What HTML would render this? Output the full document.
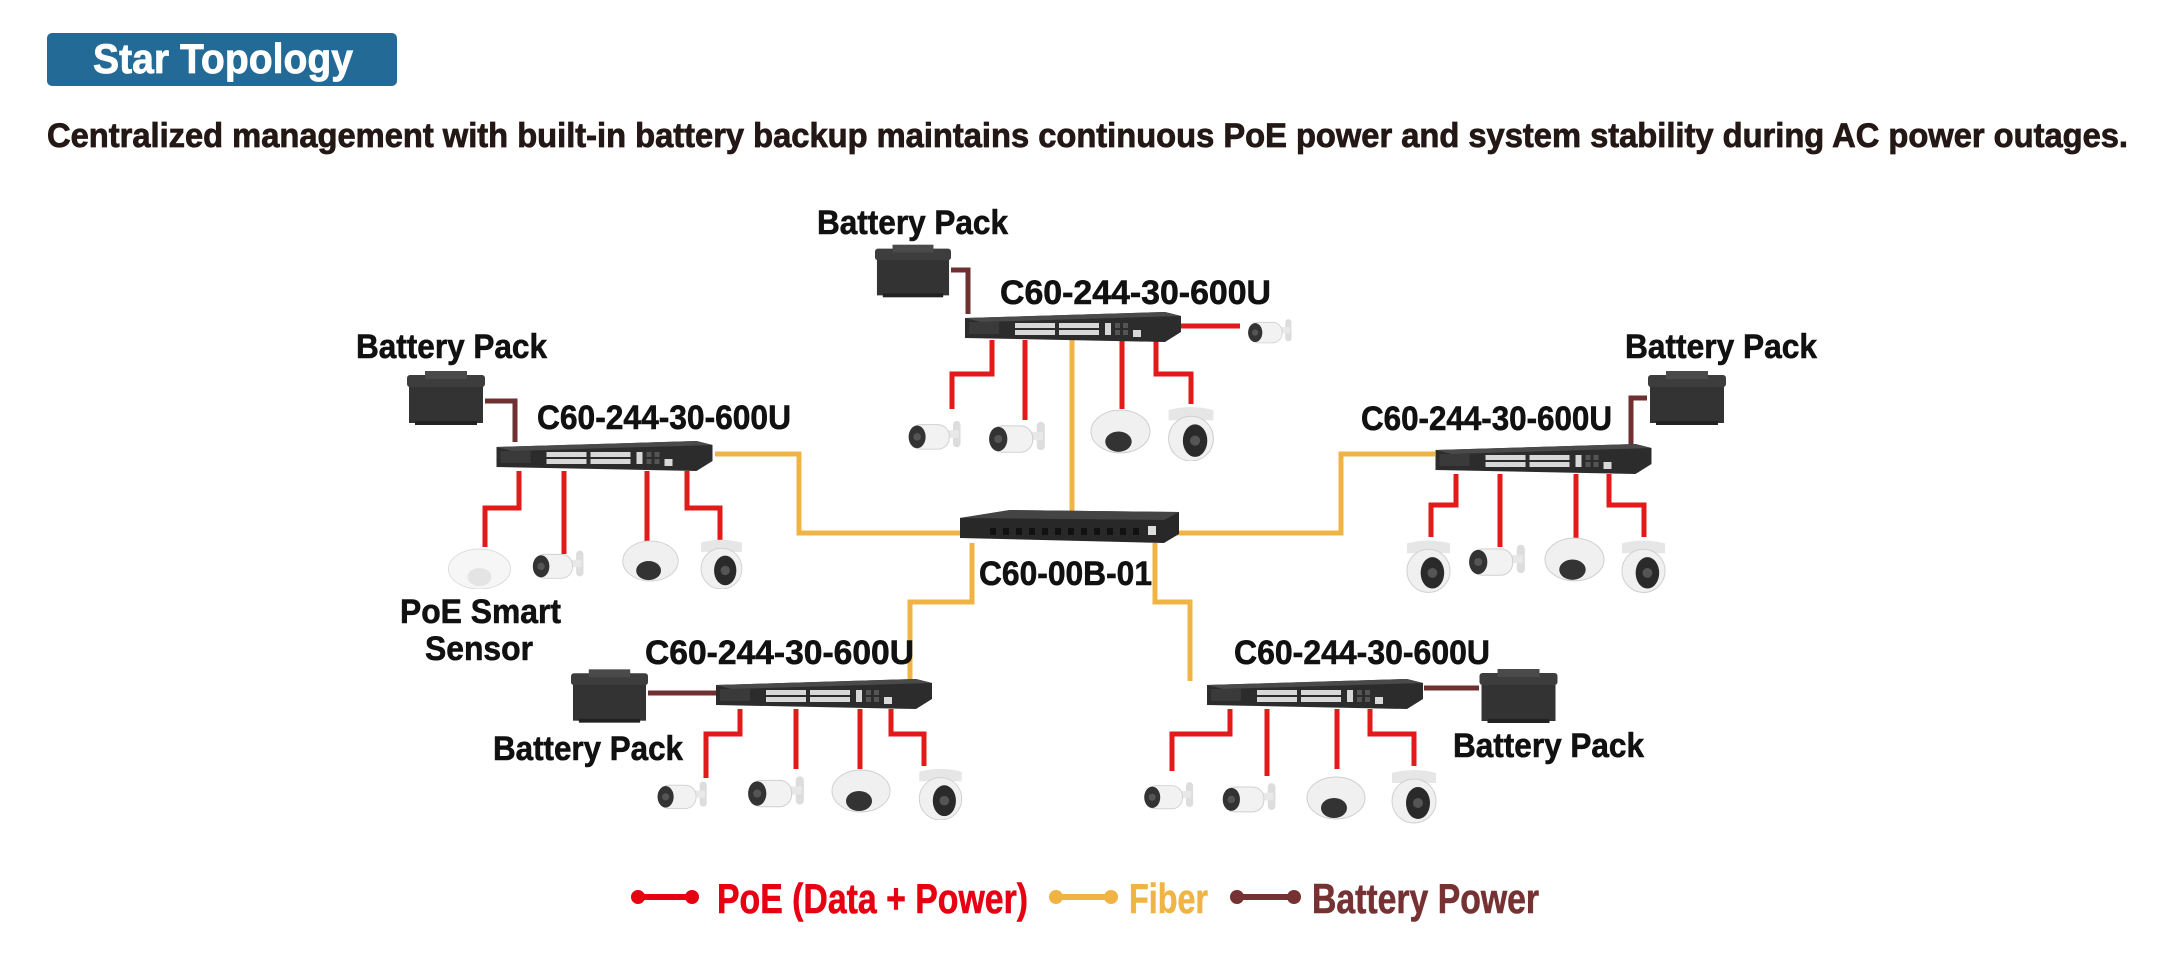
<!DOCTYPE html>
<html><head><meta charset="utf-8"><style>
html,body{margin:0;padding:0;background:#fff;width:2171px;height:961px;overflow:hidden}
svg{display:block}
text{font-family:"Liberation Sans",sans-serif;font-weight:bold}
</style></head><body>
<svg width="2171" height="961" viewBox="0 0 2171 961" xmlns="http://www.w3.org/2000/svg">
<defs>
<symbol id="sw" viewBox="0 0 216 30">
<polygon points="0,6 200,0 216,4 216,20 200,30 0,26" fill="#2c2c2c"/>
<polygon points="0,6 200,0 216,4 16,10" fill="#4a4a4a"/>
<g fill="#d8d8d8">
<rect x="50" y="11" width="40" height="5"/><rect x="50" y="18" width="40" height="5"/>
<rect x="94" y="11" width="40" height="5"/><rect x="94" y="18" width="40" height="5"/>
<rect x="140" y="11" width="6" height="12"/>
<rect x="168" y="18" width="8" height="7"/></g>
<g fill="#555"><rect x="150" y="11" width="5" height="5"/><rect x="158" y="11" width="5" height="5"/><rect x="150" y="18" width="5" height="5"/><rect x="158" y="18" width="5" height="5"/></g>
<rect x="4" y="10" width="30" height="12" fill="#3a3a3a"/>
</symbol>
<symbol id="csw" viewBox="0 0 219 33">
<polygon points="0,8 50,0 219,2 219,24 204,33 0,28" fill="#282828"/>
<polygon points="0,8 50,0 219,2 204,10" fill="#444"/>
<g fill="#111"><rect x="30" y="18" width="6" height="7"/><rect x="43" y="18" width="6" height="7"/><rect x="56" y="18" width="6" height="7"/><rect x="69" y="18" width="6" height="7"/><rect x="82" y="18" width="6" height="7"/><rect x="95" y="18" width="6" height="7"/><rect x="108" y="18" width="6" height="7"/><rect x="121" y="18" width="6" height="7"/><rect x="134" y="18" width="6" height="7"/><rect x="147" y="18" width="6" height="7"/><rect x="160" y="18" width="6" height="7"/><rect x="173" y="18" width="6" height="7"/></g>
<rect x="188" y="16" width="8" height="9" fill="#ddd"/>
</symbol>
<symbol id="bat" viewBox="0 0 78 54">
<rect x="2" y="8" width="74" height="44" fill="#333"/>
<rect x="0" y="4" width="78" height="12" rx="3" fill="#3d3d3d"/>
<rect x="18" y="0" width="42" height="8" fill="#4a4a4a"/>
<rect x="8" y="50" width="62" height="4" fill="#222"/>
</symbol>
<symbol id="bul" viewBox="0 0 72 38">
<rect x="54" y="4" width="8" height="28" rx="4" fill="#ddd"/>
<rect x="40" y="14" width="20" height="8" fill="#e8e8e8"/>
<rect x="8" y="8" width="42" height="26" rx="12" fill="#f2f2f2" stroke="#d0d0d0"/>
<ellipse cx="16" cy="21" rx="9" ry="12" fill="#333"/>
<circle cx="16" cy="21" r="4" fill="#555"/>
</symbol>
<symbol id="dome" viewBox="0 0 60 44">
<ellipse cx="30" cy="22" rx="29" ry="21" fill="#f0f0f0" stroke="#d0d0d0"/>
<ellipse cx="28" cy="32" rx="13" ry="10" fill="#333"/>
</symbol>
<symbol id="tur" viewBox="0 0 52 56">
<path d="M4,6 Q26,0 48,6 L48,16 L4,16 Z" fill="#e6e6e6"/>
<ellipse cx="26" cy="34" rx="22" ry="22" fill="#f0f0f0" stroke="#d0d0d0"/>
<ellipse cx="30" cy="36" rx="12" ry="16" fill="#2a2a2a"/>
<circle cx="30" cy="36" r="5" fill="#555"/>
</symbol>
<symbol id="sen" viewBox="0 0 64 42">
<ellipse cx="32" cy="22" rx="31" ry="20" fill="#f6f6f6" stroke="#ddd"/>
<ellipse cx="32" cy="30" rx="12" ry="9" fill="#e4e4e4"/>
</symbol>
</defs>

<rect x="47" y="33" width="350" height="53" rx="5" fill="#236a96"/>
<text x="93" y="73" font-size="42" fill="#fff" stroke="#fff" stroke-width="0.8" textLength="260" lengthAdjust="spacingAndGlyphs">Star Topology</text>
<text x="47" y="147" font-size="34" fill="#231815" stroke="#231815" stroke-width="0.8" textLength="2081" lengthAdjust="spacingAndGlyphs">Centralized management with built-in battery backup maintains continuous PoE power and system stability during AC power outages.</text>

<g fill="none" stroke-width="5">
<g stroke="#f0b445">
<polyline points="1072,340 1072,512"/>
<polyline points="715,454 799,454 799,533 962,533"/>
<polyline points="1177,533 1341,533 1341,454 1435,454"/>
<polyline points="972,543 972,602 910,602 910,681"/>
<polyline points="1155,543 1155,602 1190,602 1190,681"/>
</g>
<g stroke="#6e3030">
<polyline points="951,270 968,270 968,314"/>
<polyline points="485,401 515,401 515,442"/>
<polyline points="1647,398 1631,398 1631,445"/>
<polyline points="648,693 716,693"/>
<polyline points="1424,688 1479,688"/>
</g>
<g stroke="#e21a1a">
<polyline points="992,340 992,374 952,374 952,409"/>
<polyline points="1025,340 1025,420"/>
<polyline points="1122,340 1122,409"/>
<polyline points="1156,340 1156,374 1191,374 1191,404"/>
<polyline points="1181,326 1240,326"/>
<polyline points="519,471 519,508 485,508 485,547"/>
<polyline points="564,471 564,554"/>
<polyline points="647,471 647,544"/>
<polyline points="687,471 687,508 720,508 720,540"/>
<polyline points="1456,474 1456,505 1431,505 1431,537"/>
<polyline points="1500,474 1500,547"/>
<polyline points="1576,474 1576,540"/>
<polyline points="1609,474 1609,505 1644,505 1644,537"/>
<polyline points="740,709 740,734 706,734 706,778"/>
<polyline points="796,709 796,769"/>
<polyline points="860,709 860,769"/>
<polyline points="891,709 891,734 924,734 924,766"/>
<polyline points="1230,709 1230,734 1172,734 1172,771"/>
<polyline points="1267,709 1267,776"/>
<polyline points="1337,709 1337,769"/>
<polyline points="1370,709 1370,734 1414,734 1414,766"/>
</g>
</g>

<use href="#sw" x="965" y="312" width="216" height="30"/>
<use href="#sw" x="494" y="441" width="221" height="30"/>
<use href="#sw" x="1435" y="444" width="217" height="30"/>
<use href="#sw" x="716" y="679" width="216" height="30"/>
<use href="#sw" x="1206" y="679" width="218" height="30"/>
<use href="#csw" x="960" y="510" width="219" height="33"/>
<use href="#bat" x="875" y="244" width="76" height="54"/>
<use href="#bat" x="407" y="371" width="78" height="54"/>
<use href="#bat" x="1647" y="371" width="80" height="54"/>
<use href="#bat" x="571" y="669" width="77" height="54"/>
<use href="#bat" x="1479" y="669" width="79" height="54"/>
<use href="#bul" x="902" y="411" width="68" height="48"/>
<use href="#bul" x="982" y="417" width="73" height="40"/>
<use href="#dome" x="1090" y="409" width="61" height="45"/>
<use href="#tur" x="1163" y="404" width="56" height="57"/>
<use href="#bul" x="1237" y="316" width="68" height="30"/>
<use href="#sen" x="447" y="547" width="65" height="42"/>
<use href="#bul" x="523" y="547" width="73" height="35"/>
<use href="#dome" x="620" y="540" width="61" height="42"/>
<use href="#tur" x="695" y="537" width="53" height="52"/>
<use href="#tur" x="1403" y="537" width="51" height="56"/>
<use href="#bul" x="1462" y="540" width="73" height="40"/>
<use href="#dome" x="1544" y="537" width="61" height="45"/>
<use href="#tur" x="1618" y="537" width="51" height="56"/>
<use href="#bul" x="647" y="778" width="73" height="34"/>
<use href="#bul" x="741" y="766" width="73" height="51"/>
<use href="#dome" x="831" y="769" width="60" height="44"/>
<use href="#tur" x="914" y="766" width="53" height="54"/>
<use href="#bul" x="1138" y="771" width="64" height="49"/>
<use href="#bul" x="1216" y="778" width="69" height="39"/>
<use href="#dome" x="1305" y="776" width="62" height="44"/>
<use href="#tur" x="1388" y="766" width="52" height="58"/>

<g font-size="34" fill="#111" stroke="#111" stroke-width="0.6">
<text x="817" y="234" textLength="191" lengthAdjust="spacingAndGlyphs">Battery Pack</text>
<text x="1000" y="304" textLength="271" lengthAdjust="spacingAndGlyphs">C60-244-30-600U</text>
<text x="356" y="358" textLength="191" lengthAdjust="spacingAndGlyphs">Battery Pack</text>
<text x="537" y="429" textLength="254" lengthAdjust="spacingAndGlyphs">C60-244-30-600U</text>
<text x="1625" y="358" textLength="192" lengthAdjust="spacingAndGlyphs">Battery Pack</text>
<text x="1361" y="430" textLength="251" lengthAdjust="spacingAndGlyphs">C60-244-30-600U</text>
<text x="979" y="585" textLength="173" lengthAdjust="spacingAndGlyphs">C60-00B-01</text>
<text x="400" y="623" textLength="161" lengthAdjust="spacingAndGlyphs">PoE Smart</text>
<text x="425" y="660" textLength="108" lengthAdjust="spacingAndGlyphs">Sensor</text>
<text x="645" y="664" textLength="269" lengthAdjust="spacingAndGlyphs">C60-244-30-600U</text>
<text x="493" y="760" textLength="190" lengthAdjust="spacingAndGlyphs">Battery Pack</text>
<text x="1234" y="664" textLength="256" lengthAdjust="spacingAndGlyphs">C60-244-30-600U</text>
<text x="1453" y="757" textLength="191" lengthAdjust="spacingAndGlyphs">Battery Pack</text>
</g>

<g stroke-width="6">
<line x1="638" y1="897" x2="692" y2="897" stroke="#e60012"/>
<line x1="1056" y1="897" x2="1111" y2="897" stroke="#f0b445"/>
<line x1="1237" y1="897" x2="1294" y2="897" stroke="#763232"/>
</g>
<circle cx="638" cy="897" r="7" fill="#e60012"/><circle cx="692" cy="897" r="7" fill="#e60012"/>
<circle cx="1056" cy="897" r="7" fill="#f0b445"/><circle cx="1111" cy="897" r="7" fill="#f0b445"/>
<circle cx="1237" cy="897" r="7" fill="#763232"/><circle cx="1294" cy="897" r="7" fill="#763232"/>
<text x="717" y="913" font-size="42" fill="#e60012" stroke="#e60012" stroke-width="0.6" textLength="311" lengthAdjust="spacingAndGlyphs">PoE (Data + Power)</text>
<text x="1129" y="913" font-size="42" fill="#f0b445" stroke="#f0b445" stroke-width="0.6" textLength="79" lengthAdjust="spacingAndGlyphs">Fiber</text>
<text x="1312" y="913" font-size="42" fill="#763232" stroke="#763232" stroke-width="0.6" textLength="227" lengthAdjust="spacingAndGlyphs">Battery Power</text>
</svg>
</body></html>
